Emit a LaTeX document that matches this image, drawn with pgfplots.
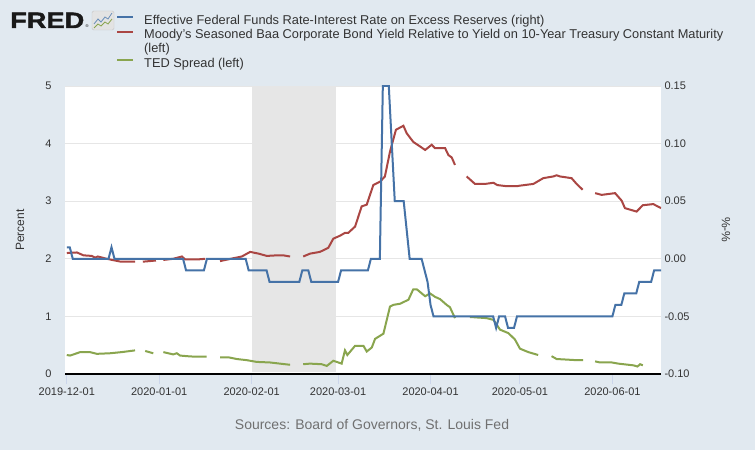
\documentclass[border=0pt]{standalone}
\usepackage{pgfplots}
\pgfplotsset{compat=1.18}
\usepackage{fontspec}
\setmainfont{Liberation Sans}
\newfontfamily\fredfont[FakeBold=1.5]{Liberation Sans Bold}

\definecolor{fredbg}{HTML}{E1E9F0}
\definecolor{fredblue}{HTML}{4572A7}
\definecolor{fredred}{HTML}{AA4643}
\definecolor{fredgreen}{HTML}{89A54E}
\definecolor{gridgray}{HTML}{E6E6E6}
\definecolor{recgray}{HTML}{E6E6E6}
\definecolor{tickblue}{HTML}{CCD6EB}
\definecolor{txt}{HTML}{333333}
\definecolor{srcgray}{HTML}{707070}

% x = days since 2019-12-01
\pgfplotsset{
  fredbase/.style={
    scale only axis, width=596pt, height=288pt,
    at={(65pt,76pt)}, anchor=south west,
    xmin=-0.6, xmax=199.3,
    /pgf/number format/assume math mode=true,
    ticklabel style={font=\fontsize{11}{13}\selectfont, text=txt},
    unbounded coords=jump,
  },
}

\begin{document}
\begin{tikzpicture}[x=1pt,y=1pt]
\useasboundingbox (0,0) rectangle (755,450);
\fill[fredbg] (0,0) rectangle (755,450);

% logo
\node[anchor=base west, inner sep=0pt, text=black!90, font=\fredfont\fontsize{22.3}{22.3}\selectfont] at (10,422) {\scalebox{1.22}[1]{FRED}};
\node[anchor=base west, inner sep=0pt, font=\fontsize{4}{4}\selectfont] at (85.5,422) {®};
\draw[rounded corners=1.5pt, fill=gray!22, draw=gray!45] (92,420) rectangle (114,439);
\draw[fredblue!80, line width=0.8pt] (94,426) -- (98,431) -- (101,428) -- (105,433) -- (108,431) -- (112,437);
\draw[fredgreen, line width=0.8pt] (94,422) -- (98,426) -- (101,424) -- (105,428) -- (108,426) -- (112,431);

% source
\node[font=\fontsize{14}{16}\selectfont, text=srcgray] at (372,25) {Sources: Board of Governors, St. Louis Fed};

\begin{axis}[fredbase,
  ymin=0, ymax=5, ytick={0,1,2,3,4,5},
  axis background/.style={fill=white},
  ymajorgrids, grid style={gridgray, line width=1pt},
  axis x line*=bottom, axis y line*=left,
  x axis line style={black, line width=2.5pt, -},
  y axis line style={draw=none},
  ytick style={draw=none},
  xtick={0,31,62,91,122,152,183},
  xticklabels={2019-12-01,2020-01-01,2020-02-01,2020-03-01,2020-04-01,2020-05-01,2020-06-01},
  xtick style={tickblue, line width=1pt},
  tick align=outside, major tick length=10pt,
  every axis y label/.style={at={(axis description cs:-0.0755,0.5)}, rotate=90, anchor=center,
    font=\fontsize{12}{14}\selectfont, text=txt},
  ylabel={Percent},
  legend style={at={(axis description cs:0.0856,1.2480)}, anchor=north west,
    draw=none, fill=none, inner sep=0pt, row sep=0pt, column sep=10pt,
    nodes={inner sep=0pt, text height=9.8pt, text depth=4.4pt,
      font=\fontsize{12.8}{14}\selectfont, text=txt}},
  legend cell align=left,
  legend image code/.code={\draw[#1] (0pt,4.5pt) -- (16pt,4.5pt);},
]
% recession shading
\addplot[fill=recgray, draw=none, forget plot] coordinates {(62,0.03) (62,5) (90.3,5) (90.3,0.03)};

\addlegendimage{fredblue, line width=2pt}
\addlegendentry{Effective Federal Funds Rate-Interest Rate on Excess Reserves (right)}

% Moody's Baa - 10Y
\addplot[fredred, line width=2pt] coordinates {
(0,2.10) (3.4,2.11) (5.6,2.06) (8.4,2.05) (9.5,2.02) (10.4,2.04) (13.4,2.00) (16.2,1.97)
(18.1,1.95) (22.9,1.95) (24,nan) (25.5,1.95) (29.9,1.97) (31,nan) (32.4,1.98) (35.7,2.00)
(38.6,2.04) (39.7,1.99) (44.1,1.99) (46.4,2.00) (50,nan) (51.4,1.96) (55.9,2.01) (58.7,2.04)
(61.5,2.12) (64.3,2.09) (67.1,2.05) (70.4,2.06) (72.6,2.06) (74.9,2.04) (78,nan) (79.3,2.04)
(81.6,2.09) (84.9,2.12) (87.7,2.19) (89.4,2.35) (91.6,2.40) (93.3,2.45) (94.4,2.45) (96.7,2.56)
(98.9,2.91) (100.6,2.94) (102.8,3.28) (105.1,3.34) (106.7,3.43) (108.4,3.86) (110.4,4.24)
(112.9,4.31) (114.0,4.18) (116.2,4.03) (120.2,3.89) (122.4,3.98) (123.5,3.92) (126.9,3.92)
(128.0,3.80) (129.1,3.76) (130.2,3.63) (132,nan) (134.1,3.43) (136.9,3.30) (140.3,3.30)
(143.1,3.32) (144.4,3.28) (147.6,3.26) (150.9,3.26) (152.0,3.27) (156.5,3.30) (159.8,3.40)
(163.2,3.43) (164.3,3.45) (165.4,3.43) (169.3,3.40) (171.0,3.30) (173.0,3.20) (175,nan)
(177.2,3.14) (179.4,3.11) (183.9,3.14) (186.1,3.01) (187.2,2.88) (191.1,2.82) (193.2,2.93)
(196.7,2.95) (199.3,2.88)
};
\addlegendentry{Moody's Seasoned Baa Corporate Bond Yield Relative to Yield on 10-Year Treasury Constant Maturity}
\addlegendimage{empty legend}
\addlegendentry{(left)}

% TED spread
\addplot[fredgreen, line width=2pt] coordinates {
(0,0.33) (1.1,0.32) (4.5,0.38) (7.8,0.38) (10.1,0.35) (14.5,0.36) (18.4,0.38) (22.9,0.41)
(24,nan) (26.3,0.40) (29.0,0.36) (31,nan) (32.4,0.38) (35.7,0.34) (36.9,0.36) (38.0,0.32)
(40.2,0.31) (43.0,0.30) (46.9,0.30) (50,nan) (51.4,0.29) (54.2,0.29) (57.0,0.26) (60.4,0.24)
(63.7,0.21) (68.2,0.20) (71.5,0.18) (74.9,0.16) (78,nan) (79.3,0.17) (81.6,0.18) (85.5,0.17)
(87.2,0.14) (89.4,0.23) (92.2,0.18) (93.3,0.41) (94.1,0.33) (96.7,0.49) (99.5,0.49)
(100.6,0.39) (102.3,0.46) (103.4,0.61) (106.2,0.70) (108.4,1.17) (109.5,1.20) (111.8,1.22)
(114.6,1.29) (116.2,1.47) (117.4,1.47) (120.2,1.35) (121.8,1.40) (123.5,1.34) (125.2,1.30)
(127.4,1.20) (128.5,1.16) (130.2,0.97) (132,nan) (135.2,0.99) (140.8,0.97) (143.1,0.94)
(145.3,0.77) (148.1,0.71) (150.3,0.60) (152.0,0.44) (154.8,0.38) (158.1,0.33) (160,nan)
(162.6,0.31) (164.3,0.26) (167.7,0.25) (171.0,0.24) (173.2,0.24) (175,nan) (177.2,0.22)
(178.8,0.20) (182.8,0.20) (185.0,0.18) (190.1,0.15) (191.4,0.13) (192.3,0.17) (193.2,0.15)
};
\addlegendentry{TED Spread (left)}
\end{axis}

\begin{axis}[fredbase,
  ymin=-0.10, ymax=0.15, ytick={-0.10,-0.05,0,0.05,0.10,0.15},
  axis x line=none, axis y line*=right,
  y axis line style={draw=none}, ytick style={draw=none},
  yticklabel style={/pgf/number format/.cd, fixed, fixed zerofill, precision=2},
  every axis y label/.style={at={(axis description cs:1.109,0.5)}, rotate=-90, anchor=center,
    font=\fontsize{12}{14}\selectfont, text=txt},
  ylabel={\%-\%},
]
% EFFR - IOER
\addplot[fredblue, line width=2pt] coordinates {
(0,0.01) (1,0.01) (2,0.00) (14,0.00) (15,0.01) (16,0.00) (39,0.00) (40,-0.01) (46,-0.01)
(47,0.00) (60,0.00) (61,-0.01) (67,-0.01) (68,-0.02) (78,-0.02) (79,-0.01) (81,-0.01)
(82,-0.02) (91,-0.02) (92,-0.01) (101,-0.01) (102,0.00) (105,0.00) (106,0.15) (108,0.15)
(110,0.05) (113,0.05) (115,0.00) (119,0.00) (121,-0.02) (122,-0.04) (123,-0.05) (143,-0.05)
(144,-0.06) (145,-0.05) (147,-0.05) (148,-0.06) (150,-0.06) (151,-0.05) (183,-0.05)
(184,-0.04) (186,-0.04) (187,-0.03) (191,-0.03) (192,-0.02) (196,-0.02) (197,-0.01)
(199.3,-0.01)
};
\end{axis}
\end{tikzpicture}
\end{document}
